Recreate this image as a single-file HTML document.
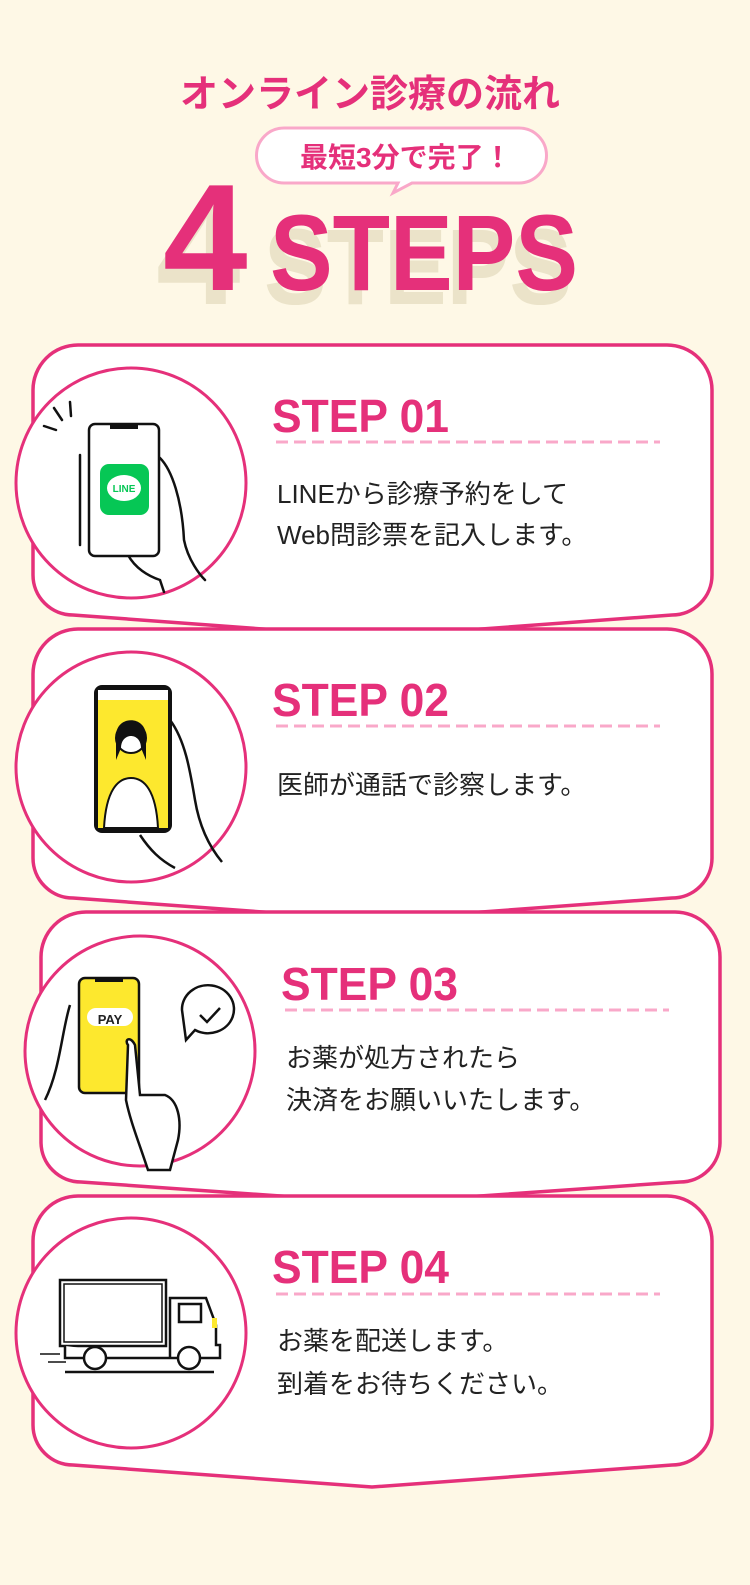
<!DOCTYPE html>
<html><head><meta charset="utf-8">
<style>
html,body{margin:0;padding:0;background:#fef8e6;}
svg{display:block;}
text{font-family:"Liberation Sans","Noto Sans CJK JP",sans-serif;}
</style></head>
<body>
<svg width="750" height="1585" viewBox="0 0 750 1585" xmlns="http://www.w3.org/2000/svg">
<rect width="750" height="1585" fill="#fef8e6"/>
<!-- title -->
<text x="370" y="107" text-anchor="middle" font-size="38" font-weight="bold" fill="#e5307a">オンライン診療の流れ</text>
<path d="M284,128 H519 A27,27 0 0 1 519,183 H412 L393,193 L398,183 H284 A27,27 0 0 1 284,128 Z" fill="#fff" stroke="#f9a8c9" stroke-width="3"/>
<text x="300" y="167" font-size="28" font-weight="bold" fill="#e5307a">最短3分で完了！</text>
<g font-weight="bold" fill="#ebe3c9">
<text x="156" y="304" font-size="152">4</text>
<text x="264" y="304" font-size="108" textLength="308" lengthAdjust="spacingAndGlyphs">STEPS</text>
</g>
<g font-weight="bold" fill="#e5307a">
<text x="163" y="290" font-size="152">4</text>
<text x="270" y="290" font-size="108" textLength="308" lengthAdjust="spacingAndGlyphs">STEPS</text>
</g>

<!-- cards -->
<g fill="#fff" stroke="#e5307a" stroke-width="3.5" stroke-linejoin="round">
<path d="M78,345 H667 A45,45 0 0 1 712,390 V575 A40,40 0 0 1 672,615 L372,637 L73,615 A40,40 0 0 1 33,575 V390 A45,45 0 0 1 78,345 Z"/>
<path d="M78,629 H667 A45,45 0 0 1 712,674 V858 A40,40 0 0 1 672,898 L372,920 L73,898 A40,40 0 0 1 33,858 V674 A45,45 0 0 1 78,629 Z"/>
<path d="M86,912 H675 A45,45 0 0 1 720,957 V1142 A40,40 0 0 1 680,1182 L380,1203 L81,1182 A40,40 0 0 1 41,1142 V957 A45,45 0 0 1 86,912 Z"/>
<path d="M78,1196 H667 A45,45 0 0 1 712,1241 V1425 A40,40 0 0 1 672,1465 L372,1487 L73,1465 A40,40 0 0 1 33,1425 V1241 A45,45 0 0 1 78,1196 Z"/>
</g>
<g fill="#fff" stroke="#e5307a" stroke-width="3">
<circle cx="131" cy="483" r="115"/>
<circle cx="131" cy="767" r="115"/>
<circle cx="140" cy="1051" r="115"/>
<circle cx="131" cy="1333" r="115"/>
</g>

<!-- step headings -->
<g font-size="46" fill="#e5307a" font-weight="bold">
<text x="272" y="432" textLength="177" lengthAdjust="spacingAndGlyphs">STEP 01</text>
<text x="272" y="716" textLength="177" lengthAdjust="spacingAndGlyphs">STEP 02</text>
<text x="281" y="1000" textLength="177" lengthAdjust="spacingAndGlyphs">STEP 03</text>
<text x="272" y="1283" textLength="177" lengthAdjust="spacingAndGlyphs">STEP 04</text>
</g>
<g stroke="#f9a8c9" stroke-width="3" stroke-dasharray="12,6">
<line x1="276" y1="442" x2="660" y2="442"/>
<line x1="276" y1="726" x2="660" y2="726"/>
<line x1="285" y1="1010" x2="669" y2="1010"/>
<line x1="276" y1="1294" x2="660" y2="1294"/>
</g>
<g font-size="26" fill="#222">
<text x="277" y="503">LINEから診療予約をして</text>
<text x="277" y="544">Web問診票を記入します。</text>
<text x="277" y="794">医師が通話で診察します。</text>
<text x="286" y="1067">お薬が処方されたら</text>
<text x="286" y="1109">決済をお願いいたします。</text>
<text x="277" y="1350">お薬を配送します。</text>
<text x="277" y="1393">到着をお待ちください。</text>
</g>

<!-- illus 1 -->
<g stroke="#111" stroke-width="2.5" fill="none" stroke-linecap="round">
<line x1="44" y1="426" x2="56" y2="430"/><line x1="54" y1="408" x2="62" y2="420"/><line x1="70" y1="402" x2="71" y2="416"/>
<path d="M160,458 C172,470 182,500 184,540 C188,560 200,575 205,580"/>
<path d="M128,555 C135,568 148,576 160,580 L164,592"/>
<rect x="89" y="424" width="70" height="132" rx="6" fill="#fff"/>
<path d="M80,455 v90"/>
</g>
<rect x="110" y="424" width="28" height="5" fill="#111"/>
<rect x="100" y="464" width="49" height="51" rx="9" fill="#06c755"/>
<ellipse cx="124" cy="488" rx="17" ry="13" fill="#fff"/>
<text x="124" y="492" font-size="10" font-weight="bold" fill="#06c755" text-anchor="middle">LINE</text>

<!-- illus 2 -->
<g stroke="#111" stroke-width="2.5" fill="none">
<path d="M170,720 C185,740 190,770 195,800 C200,830 212,850 222,862"/>
<path d="M140,835 C150,850 160,860 175,868"/>
</g>
<rect x="94" y="685" width="78" height="148" rx="8" fill="#111"/>
<rect x="98" y="700" width="70" height="128" fill="#fde82e"/>
<rect x="98" y="690" width="70" height="10" fill="#fff"/>
<circle cx="131" cy="738" r="15" fill="#fff" stroke="#111" stroke-width="2"/>
<path d="M116,736 C116,715 146,715 146,736 L146,760 L141,748 C141,732 121,732 121,748 L116,760 Z" fill="#111"/>
<path d="M104,828 C106,790 118,778 131,778 C144,778 156,790 158,828 Z" fill="#fff" stroke="#111" stroke-width="2"/>

<!-- illus 3 -->
<g stroke="#111" stroke-width="2.5" fill="#fff">
<path d="M70,1005 C62,1030 60,1070 45,1100"/>
<rect x="79" y="978" width="60" height="115" rx="6" fill="#fde82e"/>
<rect x="87" y="1008" width="46" height="18" rx="9" fill="#fff" stroke="none"/>
<path d="M128,1045 C124,1040 130,1035 135,1045 L140,1095 L165,1095 C178,1100 182,1120 178,1140 L170,1170 L148,1170 C138,1140 130,1120 126,1100 Z"/>
<path d="M182,1010 A26,24 0 1 1 195,1030 L186,1040 Z" fill="#fff"/>
<path d="M200,1015 L207,1022 L220,1008" fill="none"/>
</g>
<rect x="95" y="978" width="28" height="4" fill="#111"/>
<text x="110" y="1024" text-anchor="middle" font-size="13" font-weight="bold" fill="#222">PAY</text>

<!-- illus 4 -->
<g stroke="#111" stroke-width="2.5" fill="#fff">
<rect x="60" y="1280" width="106" height="66"/>
<rect x="64" y="1284" width="98" height="58" fill="none" stroke-width="1.5"/>
<path d="M65,1346 V1358 H220 V1345 H216 V1325 L206,1298 H170 V1358"/>
<rect x="179" y="1304" width="22" height="18"/>
<circle cx="95" cy="1358" r="11"/><circle cx="189" cy="1358" r="11"/>
<line x1="65" y1="1372" x2="214" y2="1372"/>
<line x1="40" y1="1354" x2="60" y2="1354" stroke-width="1.5"/>
<line x1="48" y1="1362" x2="66" y2="1362" stroke-width="1.5"/>
</g>
<rect x="212" y="1318" width="5" height="10" fill="#fde82e"/>
</svg>
</body></html>
